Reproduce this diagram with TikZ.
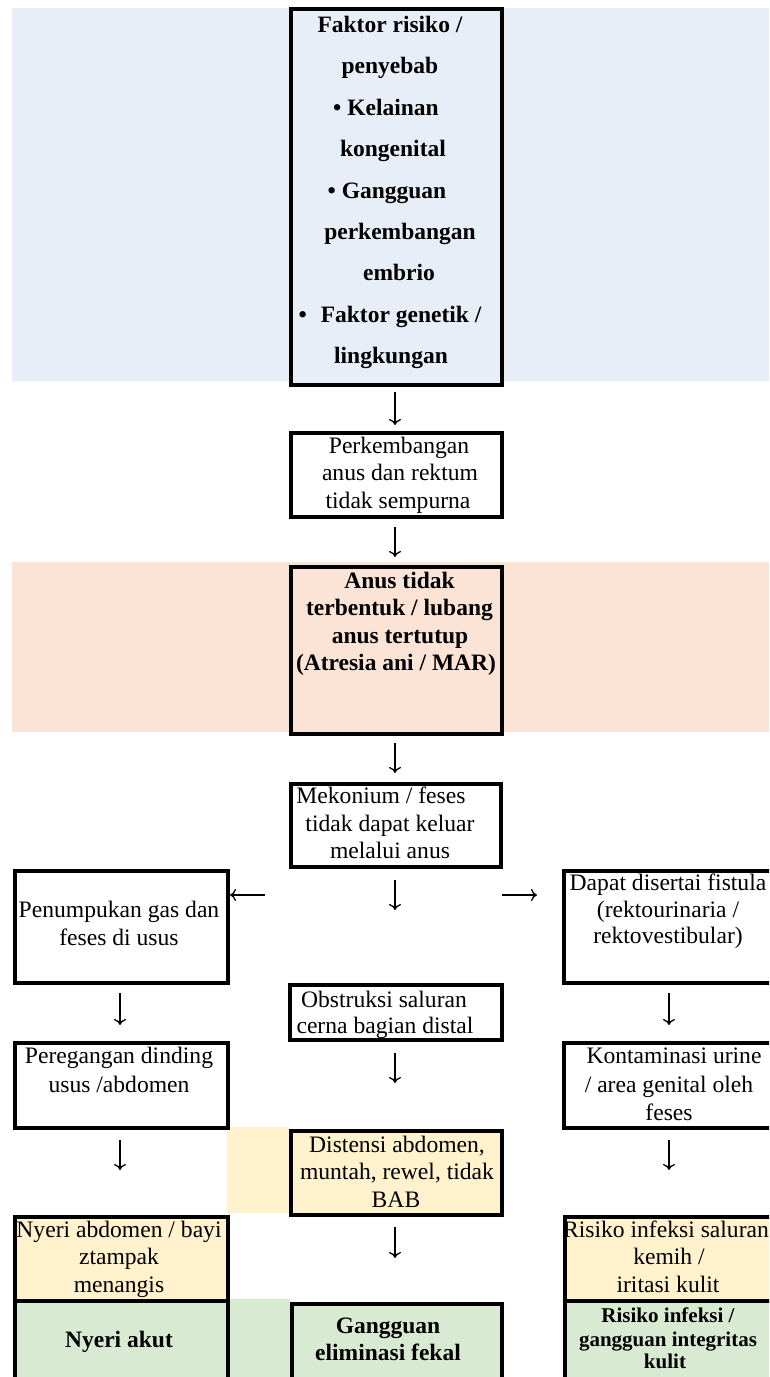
\documentclass[tikz,border=0pt]{standalone}
\usepackage{fontspec}
\setmainfont{Liberation Serif}
\usetikzlibrary{arrows.meta}
\definecolor{bandblue}{HTML}{E8EEF8}
\definecolor{bandpeach}{HTML}{FBE3D6}
\definecolor{bandyellow}{HTML}{FFF2CC}
\definecolor{bandgreen}{HTML}{D9EAD3}
\tikzset{
  box/.style={draw, line width=3.5pt, inner sep=0pt, anchor=north west},
  txt/.style={anchor=base, inner sep=0pt, font=\fontsize{23.6}{28}\selectfont},
  btxt/.style={anchor=base, inner sep=0pt, font=\bfseries\fontsize{23.5}{28}\selectfont},
  sbtxt/.style={anchor=base, inner sep=0pt, font=\bfseries\fontsize{21}{24}\selectfont},
  arr/.style={line width=1.3pt, -{To[length=6pt,width=12pt]}}
}
\newcommand\bx[6]{\node[box, fill=#6, minimum width={#4-#2}, minimum height={#5-#3}] (#1) at (#2,#3) {};}
\newcommand\tl[5]{\node[#1] (#2) at (#3,#4) {#5};}
\newcommand\ar[4]{\coordinate (#1s) at (#2,#3); \coordinate (#1e) at (#2,#4); \draw[arr] (#1s) -- (#1e);}
\newcommand\arh[4]{\coordinate (#1s) at (#2,#4); \coordinate (#1e) at (#3,#4); \draw[arr] (#1s) -- (#1e);}
\begin{document}
\begin{tikzpicture}[x=1pt,y=-1pt]
\useasboundingbox (0,0) rectangle (769,1377);
\clip (0,0) rectangle (769,1377);
% background bands
\fill[bandblue] (12,8) rectangle (769,381);
\fill[bandpeach] (12,562) rectangle (769,732);
\fill[bandyellow] (227,1127) rectangle (290,1213);
\fill[bandgreen] (227,1299) rectangle (290,1380);
% boxes
\bx{b1}{289}{7}{500}{383}{bandblue}
\bx{b2}{289}{431}{500}{515}{white}
\bx{b3}{289}{565}{500}{732}{bandpeach}
\bx{b4}{289}{782}{499}{865}{white}
\bx{bl1}{13}{869}{226}{981}{white}
\bx{br1}{562}{869}{780}{981}{white}
\bx{ob}{288}{983}{500}{1038}{white}
\bx{bl2}{13}{1041}{226}{1126}{white}
\bx{br2}{562}{1041}{780}{1126}{white}
\bx{di}{289}{1129}{500}{1213}{bandyellow}
\bx{bl3}{13}{1215}{226}{1299}{bandyellow}
\bx{br3}{563}{1215}{780}{1299}{bandyellow}
\bx{bl4}{13}{1299}{226}{1395}{bandgreen}
\bx{bm4}{290}{1302}{500}{1395}{bandgreen}
\bx{br4}{563}{1299}{780}{1395}{bandgreen}
% box 1 text
\tl{btxt}{t1a}{390}{32}{Faktor risiko /}
\tl{btxt}{t1b}{390}{73.5}{penyebab}
\tl{btxt}{t1c}{386}{115}{• Kelainan}
\tl{btxt}{t1d}{393}{156.5}{kongenital}
\tl{btxt}{t1e}{387}{198}{• Gangguan}
\tl{btxt}{t1f}{400}{239}{perkembangan}
\tl{btxt}{t1g}{399}{280.5}{embrio}
\tl{btxt}{t1h}{390}{322}{•\hspace*{14pt}Faktor genetik /}
\tl{btxt}{t1i}{391}{363}{lingkungan}
% box 2
\tl{txt}{t2a}{399}{453}{Perkembangan}
\tl{txt}{t2b}{400}{480.5}{anus dan rektum}
\tl{txt}{t2c}{398}{508}{tidak sempurna}
% box 3
\tl{btxt}{t3a}{399.5}{588}{Anus tidak}
\tl{btxt}{t3b}{399.5}{615.5}{terbentuk / lubang}
\tl{btxt}{t3c}{400}{643}{anus tertutup}
\tl{btxt}{t3d}{396}{670}{(Atresia ani / MAR)}
% box 4
\tl{txt}{t4a}{381}{803}{Mekonium / feses}
\tl{txt}{t4b}{390}{831}{tidak dapat keluar}
\tl{txt}{t4c}{390}{858}{melalui anus}
% left 1
\tl{txt}{tl1a}{119}{917}{Penumpukan gas dan}
\tl{txt}{tl1b}{119}{945}{feses di usus}
% right 1
\tl{txt}{tr1a}{668}{890}{Dapat disertai fistula}
\tl{txt}{tr1b}{668}{917}{(rektourinaria /}
\tl{txt}{tr1c}{668}{943}{rektovestibular)}
% obstruksi
\tl{txt}{toa}{384}{1007}{Obstruksi saluran}
\tl{txt}{tob}{385}{1033}{cerna bagian distal}
% left 2
\tl{txt}{tl2a}{119}{1063}{Peregangan dinding}
\tl{txt}{tl2b}{119}{1092}{usus /abdomen}
% right 2
\tl{txt}{tr2a}{674}{1063}{Kontaminasi urine}
\tl{txt}{tr2b}{669}{1092}{/ area genital oleh}
\tl{txt}{tr2c}{669}{1120}{feses}
% distensi
\tl{txt}{tda}{397}{1152}{Distensi abdomen,}
\tl{txt}{tdb}{397}{1179}{muntah, rewel, tidak}
\tl{txt}{tdc}{396}{1207}{BAB}
% left 3
\tl{txt}{tl3a}{119}{1237}{Nyeri abdomen / bayi}
\tl{txt}{tl3b}{119}{1264.5}{ztampak}
\tl{txt}{tl3c}{119}{1292}{menangis}
% right 3
\tl{txt}{tr3a}{666}{1237}{Risiko infeksi saluran}
\tl{txt}{tr3b}{669}{1264.5}{kemih /}
\tl{txt}{tr3c}{668}{1292}{iritasi kulit}
% bottom row
\tl{btxt}{tl4}{119}{1347}{Nyeri akut}
\tl{btxt}{tm4a}{388}{1333}{Gangguan}
\tl{btxt}{tm4b}{388}{1360}{eliminasi fekal}
\tl{sbtxt}{tr4a}{668}{1322}{Risiko infeksi /}
\tl{sbtxt}{tr4b}{668}{1346}{gangguan integritas}
\tl{sbtxt}{tr4c}{665}{1368}{kulit}
% arrows
\ar{a1}{395}{392}{425}
\ar{a2}{395}{527}{557}
\ar{a3}{395}{743}{773}
\ar{a4}{395}{880}{910}
\arh{aL}{265}{230}{895}
\arh{aR}{502}{537}{895}
\ar{a5}{120}{993}{1025}
\ar{a6}{669}{993}{1025}
\ar{a7}{395}{1053}{1083}
\ar{a8}{120}{1140}{1170}
\ar{a9}{669}{1140}{1170}
\ar{a10}{395}{1227}{1258}
\end{tikzpicture}
\end{document}
